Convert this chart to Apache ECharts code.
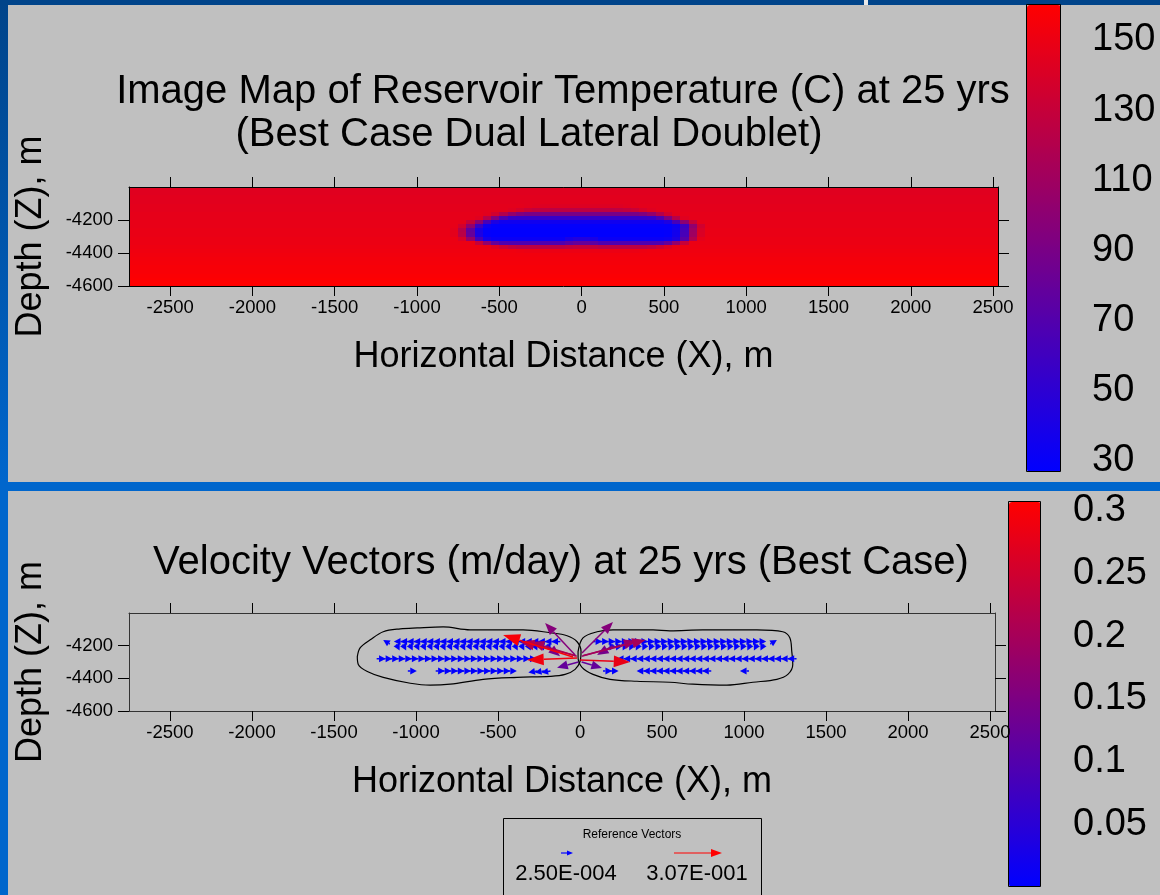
<!DOCTYPE html>
<html><head><meta charset="utf-8">
<script src="https://cdn.jsdelivr.net/npm/echarts@6/dist/echarts.min.js"></script>
<style>
html,body{margin:0;padding:0;width:1160px;height:895px;overflow:hidden;background:#0066cc;}
#leftstrip{position:absolute;left:0;top:0;width:8px;height:895px;background:linear-gradient(#00448a 0px,#0066cc 480px);}
#topband{position:absolute;left:0;top:0;width:1160px;height:5px;background:#00448a;}
#mark{position:absolute;left:864px;top:0;width:4px;height:5px;background:#e8e8e8;}
#p1{position:absolute;left:8px;top:5px;width:1152px;height:477px;background:#c0c0c0;}
#p2{position:absolute;left:8px;top:491px;width:1152px;height:404px;background:#c0c0c0;}
#chart{position:absolute;left:0;top:0;width:1160px;height:895px;}
</style></head>
<body>
<div id="leftstrip"></div><div id="topband"></div><div id="mark"></div>
<div id="p1"></div><div id="p2"></div>
<div id="chart"></div>
<script>
// ---------- tick labels ----------
const xTicks = [-2500,-2000,-1500,-1000,-500,0,500,1000,1500,2000,2500];
const depthTicks = [-4600,-4400,-4200];
const tempTicks = [30,50,70,90,110,130,150];
const speedTicks = [0.05,0.1,0.15,0.2,0.25,0.3];

// ---------- temperature field (C) ----------
// background rows (25 m thick), centre depths top->bottom
const bgDepth = [-4012.5,-4037.5,-4062.5,-4087.5,-4112.5,-4137.5,-4162.5,-4187.5,-4212.5,-4237.5,-4262.5,-4287.5,
                 -4312.5,-4337.5,-4362.5,-4387.5,-4412.5,-4437.5,-4462.5,-4487.5,-4512.5,-4537.5,-4562.5,-4587.5];
const bgTemp = [144,144,145,145,146,146,147,147,148,148,149,149,150,150,151,152,153,154,155,156,157,158,159,160];
// cold-zone cells (50 m x 25 m)
const coldX = [-775,-725,-675,-625,-575,-525,-475,-425,-375,-325,-275,-225,-175,-125,-75,-25,
               25,75,125,175,225,275,325,375,425,475,525,575,625,675,725,775];
const coldZ = [-4112.5,-4137.5,-4162.5,-4187.5,-4212.5,-4237.5,-4262.5,-4287.5,-4312.5,-4337.5,-4362.5,-4387.5];
const coldTemp = [
 [146,146,146,146,146,146,146,146,146,145,144,142,142,142,142,142, 142,142,142,142,142,144,145,146,146,146,146,146,146,146,146,146],
 [146,146,146,146,146,146,146,143,138,132,128,126,125,125,125,125, 125,125,125,125,126,128,132,138,143,146,146,146,146,146,146,146],
 [147,147,147,147,145,136,120,104,94,90,90,90,90,90,90,90, 90,90,90,90,90,90,90,94,104,120,136,145,147,147,147,147],
 [147,147,147,144,122,93,68,56,55,55,55,55,55,55,55,55, 55,55,55,55,55,55,55,55,56,68,93,122,144,147,147,147],
 [148,147,130,100,64,42,35,35,35,35,35,35,35,35,35,35, 35,35,35,35,35,35,35,35,35,35,42,64,100,130,147,148],
 [148,136,102,58,33,28,28,28,28,28,28,28,28,28,28,28, 28,28,28,28,28,28,28,28,28,28,28,33,58,102,136,148],
 [146,122,78,40,28,27,27,27,27,27,27,27,27,27,27,27, 27,27,27,27,27,27,27,27,27,27,28,35,62,108,140,149],
 [146,124,80,41,28,27,27,27,27,27,27,27,27,27,27,27, 27,27,27,27,27,27,27,27,27,27,28,36,64,110,141,149],
 [150,140,105,62,37,32,32,32,32,32,32,32,32,32,40,45, 45,40,32,32,32,32,32,32,32,32,34,42,72,118,147,150],
 [150,150,150,130,104,80,69,68,68,68,68,68,68,68,75,80, 80,75,68,68,68,68,68,68,68,69,80,104,130,150,150,150],
 [151,151,151,151,150,143,135,128,125,125,125,125,125,125,128,130, 130,128,125,125,125,125,125,125,128,135,143,150,151,151,151,151],
 [152,152,152,152,152,152,152,152,151,150,150,150,150,150,150,150, 150,150,150,150,150,150,150,151,152,152,152,152,152,152,152,152]
];

// ---------- velocity vectors (m, m/day) ----------
const rowDepth = [-4175, -4190, -4280, -4355];
const rowSpeed = [0.004, 0.003, 0.004, 0.003];
const rowX = [
 [-1080,-1040,-1000,-960,-920,-880,-840,-800,-760,-720,-680,-640,-600,-560,-520,-480,-440,-400,-360,-320,-280,-240,-200,-160,-120,
  80,120,160,200,240,280,320,360,400,440,480,520,560,600,640,680,720,760,800,840,880,920,960,1000,1040,1080],
 [-1160,-1120,-1080,-1040,-1000,-960,-920,-880,-840,-800,-760,-720,-680,-640,-600,-560,-520,-480,-440,-400,-360,-320,-280,-240,-200,
  200,240,280,320,360,400,440,480,520,560,600,640,680,720,760,800,840,880,920,960,1000,1040,1080,1120,1160],
 [-1240,-1200,-1160,-1120,-1080,-1040,-1000,-960,-920,-880,-840,-800,-760,-720,-680,-640,-600,-560,-520,-480,-440,-400,-360,-320,
  280,320,360,400,440,480,520,560,600,640,680,720,760,800,840,880,920,960,1000,1040,1080,1120,1160,1200,1240,1280,1320],
 [-1050,-880,-840,-800,-760,-720,-680,-640,-600,-560,-520,-480,-440,-260,-220,-180,
  140,180,400,440,480,520,560,600,640,680,720,760,800,1030]
];
const rowDX = [
 [-55,-55,-55,-55,-55,-55,-55,-55,-55,-55,-55,-55,-55,-55,-55,-55,-55,-55,-55,-55,-55,-55,-55,-55,-55,
  55,55,55,55,55,55,55,55,55,55,55,55,55,55,55,55,55,55,55,55,55,55,55,55,55,55],
 [-40,20,20,20,20,20,20,20,20,20,20,20,20,20,20,20,20,20,20,20,20,20,20,20,20,
  -20,-20,-20,-20,-20,-20,-20,-20,-20,-20,-20,-20,-20,-20,-20,-20,-20,-20,-20,-20,-20,-20,-20,-20,40],
 [55,55,55,55,55,55,55,55,55,55,55,55,55,55,55,55,55,55,55,55,55,55,55,55,
  -55,-55,-55,-55,-55,-55,-55,-55,-55,-55,-55,-55,-55,-55,-55,-55,-55,-55,-55,-55,-55,-55,-55,-55,-55,-55,-55],
 [55,55,55,55,55,55,55,55,55,55,55,55,55,-55,-55,-55,
  55,55,-55,-55,-55,-55,-55,-55,-55,-55,-55,-55,-55,-55]
];
const rowDZ = [
 [0,0,0,0,0,0,0,0,0,0,0,0,0,0,0,0,0,0,0,0,0,0,0,0,0, 0,0,0,0,0,0,0,0,0,0,0,0,0,0,0,0,0,0,0,0,0,0,0,0,0,0],
 [25,-40,-40,-40,-40,-40,-40,-40,-40,-40,-40,-40,-40,-40,-40,-40,-40,-40,-40,-40,-40,-40,-40,-40,-40,
  -40,-40,-40,-40,-40,-40,-40,-40,-40,-40,-40,-40,-40,-40,-40,-40,-40,-40,-40,-40,-40,-40,-40,-40,25],
 [0,0,0,0,0,0,0,0,0,0,0,0,0,0,0,0,0,0,0,0,0,0,0,0, 0,0,0,0,0,0,0,0,0,0,0,0,0,0,0,0,0,0,0,0,0,0,0,0,0,0,0],
 [0,0,0,0,0,0,0,0,0,0,0,0,0,-10,-10,-10, 0,0,0,0,0,0,0,0,0,0,0,0,0,0]
];
// fast vectors near the well pair
const wellX  = [-10,10,-200,200,-20,10,-30,20,-30,12,0,-18,-43];
const wellZ  = [-4300,-4300,-4200,-4200,-4265,-4265,-4260,-4260,-4257,-4245,-4288,-4275,-4269];
const wellDX = [-130,124,78,-96,-280,335,-335,380,-183,189,305,-305,-426];
const wellDZ = [-35,-37,-65,-57,87,95,85,95,196,190,-12,-13,134];
const wellSpeed = [0.12,0.12,0.14,0.14,0.2,0.18,0.22,0.2,0.16,0.16,0.28,0.29,0.30];

// ---------- swept-zone outlines ----------
const leftZoneX = [-1358,-1340,-1279,-1200,-1096,-993,-834,-670,-530,-347,-183,-79,-18,6,0,-30,-91,-183,-384,-591,-792,-914,-1035,-1200,-1297,-1352,-1358];
const leftZoneZ = [-4267,-4212,-4164,-4115,-4097,-4091,-4085,-4103,-4103,-4103,-4121,-4139,-4176,-4236,-4297,-4345,-4376,-4388,-4394,-4406,-4436,-4442,-4430,-4394,-4358,-4315,-4267];
const rightZoneX = [-12,18,104,201,445,548,749,1078,1236,1279,1291,1297,1267,1200,1054,895,688,548,347,183,79,12,-12,-12];
const rightZoneZ = [-4236,-4152,-4115,-4103,-4103,-4109,-4103,-4103,-4115,-4152,-4236,-4315,-4376,-4406,-4424,-4442,-4436,-4424,-4418,-4406,-4376,-4333,-4273,-4236];

// ---------- build ----------
const FONT = '"Liberation Sans", Arial, sans-serif';
const X_MIN = -2750, X_MAX = 2530, Z_MIN = -4600, Z_MAX = -4000;
const BG_H = 25, CELL_W = 50, CELL_H = 25;
const plain = v => String(v);

const bgData = bgDepth.map((z, i) => [0, z, bgTemp[i]]);
const coldData = [];
coldZ.forEach((z, r) => coldX.forEach((x, c) => coldData.push([x, z, coldTemp[r][c]])));
const arrowData = [];
rowX.forEach((xs, r) => xs.forEach((x, i) => arrowData.push([x, rowDepth[r], rowDX[r][i], rowDZ[r][i], rowSpeed[r]])));
wellX.forEach((x, i) => arrowData.push([x, wellZ[i], wellDX[i], wellDZ[i], wellSpeed[i]]));

function rectOf(api, x0, z0, x1, z1) {
  const a = api.coord([x0, z0]), b = api.coord([x1, z1]);
  const l = Math.round(Math.min(a[0], b[0])), r = Math.round(Math.max(a[0], b[0]));
  const t = Math.round(Math.min(a[1], b[1])), bt = Math.round(Math.max(a[1], b[1]));
  return {type: 'rect', shape: {x: l, y: t, width: r - l, height: bt - t}, style: {fill: api.visual('color')}};
}

function xAxisPair(grid, frameColor) {
  return [
    {type: 'value', gridIndex: grid, position: 'bottom', min: X_MIN, max: X_MAX, z: 5,
     name: 'Horizontal Distance (X), m', nameLocation: 'middle', nameGap: 53,
     nameTextStyle: {fontSize: 36, color: '#000', fontFamily: FONT},
     axisLine: {show: true, onZero: false, lineStyle: {color: frameColor, width: 1}},
     axisTick: {show: true, inside: false, length: 10, customValues: xTicks, lineStyle: {color: '#000'}},
     axisLabel: {show: true, margin: 12, fontSize: 18.5, color: '#000', fontFamily: FONT, customValues: xTicks, formatter: plain},
     splitLine: {show: false}},
    {type: 'value', gridIndex: grid, position: 'top', min: X_MIN, max: X_MAX, z: 5,
     axisLine: {show: true, onZero: false, lineStyle: {color: frameColor, width: 1}},
     axisTick: {show: true, inside: false, length: 10, customValues: xTicks, lineStyle: {color: '#000'}},
     axisLabel: {show: false}, splitLine: {show: false}}
  ];
}
function yAxisPair(grid, frameColor) {
  return [
    {type: 'value', gridIndex: grid, position: 'left', min: Z_MIN, max: Z_MAX, z: 5,
     name: 'Depth (Z), m', nameLocation: 'middle', nameGap: 80,
     nameTextStyle: {fontSize: 36, color: '#000', fontFamily: FONT},
     axisLine: {show: true, onZero: false, lineStyle: {color: frameColor, width: 1}},
     axisTick: {show: true, inside: false, length: 11, customValues: depthTicks, lineStyle: {color: '#000'}},
     axisLabel: {show: true, margin: 16, fontSize: 18.5, color: '#000', fontFamily: FONT, customValues: depthTicks, formatter: plain},
     splitLine: {show: false}},
    {type: 'value', gridIndex: grid, position: 'right', min: Z_MIN, max: Z_MAX, z: 5,
     axisLine: {show: true, onZero: false, lineStyle: {color: frameColor, width: 1}},
     axisTick: {show: true, inside: false, length: 11, customValues: depthTicks, lineStyle: {color: '#000'}},
     axisLabel: {show: false}, splitLine: {show: false}}
  ];
}

const chart = echarts.init(document.getElementById('chart'), null, {renderer: 'canvas'});
chart.setOption({
  animation: false,
  backgroundColor: 'transparent',
  grid: [
    {left: 129, top: 187, width: 869, height: 99},
    {left: 129, top: 613, width: 866, height: 98},
    {left: 1027, top: 5, width: 34, height: 467},
    {left: 1009, top: 502, width: 32, height: 385}
  ],
  xAxis: [
    ...xAxisPair(0, '#000'),
    ...xAxisPair(1, '#333'),
    {type: 'value', gridIndex: 2, show: false, min: 0, max: 1},
    {type: 'value', gridIndex: 3, show: false, min: 0, max: 1}
  ],
  yAxis: [
    ...yAxisPair(0, '#000'),
    ...yAxisPair(1, '#333'),
    {type: 'value', gridIndex: 2, position: 'right', min: 26.6, max: 160,
     axisLine: {show: false}, splitLine: {show: false},
     axisTick: {show: true, length: 19, customValues: tempTicks, lineStyle: {color: '#000'}},
     axisLabel: {show: true, margin: 31, fontSize: 38, color: '#000', fontFamily: FONT, customValues: tempTicks, formatter: plain}},
    {type: 'value', gridIndex: 3, position: 'right', min: 0, max: 0.307,
     axisLine: {show: false}, splitLine: {show: false},
     axisTick: {show: true, length: 19, customValues: speedTicks, lineStyle: {color: '#333'}},
     axisLabel: {show: true, margin: 32, fontSize: 38, color: '#000', fontFamily: FONT, customValues: speedTicks, formatter: plain}}
  ],
  visualMap: [
    {type: 'continuous', seriesIndex: [0, 1], dimension: 2, min: 26.6, max: 160,
     inRange: {color: ['#0000ff', '#ff0000']}, left: 1027, top: 5, itemWidth: 34, itemHeight: 467,
     padding: 0, calculable: false, hoverLink: false, orient: 'vertical', show: true},
    {type: 'continuous', seriesIndex: [4], dimension: 4, min: 0, max: 0.307,
     inRange: {color: ['#0000ff', '#ff0000']}, left: 1009, top: 502, itemWidth: 32, itemHeight: 385,
     padding: 0, calculable: false, hoverLink: false, orient: 'vertical', show: true}
  ],
  series: [
    {type: 'custom', name: 'temperature rows', xAxisIndex: 0, yAxisIndex: 0, encode: {x: 0, y: 1},
     data: bgData, z: 1,
     renderItem: (p, api) => rectOf(api, X_MIN, api.value(1) + BG_H / 2, X_MAX, api.value(1) - BG_H / 2)},
    {type: 'custom', name: 'cold zone', xAxisIndex: 0, yAxisIndex: 0, encode: {x: 0, y: 1},
     data: coldData, z: 2,
     renderItem: (p, api) => rectOf(api, api.value(0) - CELL_W / 2, api.value(1) + CELL_H / 2,
                                         api.value(0) + CELL_W / 2, api.value(1) - CELL_H / 2)},
    {type: 'line', xAxisIndex: 2, yAxisIndex: 2, data: leftZoneX.map((x, i) => [x, leftZoneZ[i]]),
     symbol: 'none', smooth: 0.35, lineStyle: {color: '#000', width: 1.2}, z: 3},
    {type: 'line', xAxisIndex: 2, yAxisIndex: 2, data: rightZoneX.map((x, i) => [x, rightZoneZ[i]]),
     symbol: 'none', smooth: 0.35, lineStyle: {color: '#000', width: 1.2}, z: 3},
    {type: 'custom', name: 'velocity', xAxisIndex: 2, yAxisIndex: 2, encode: {x: 0, y: 1},
     data: arrowData, z: 4,
     renderItem: (p, api) => {
       const x = api.value(0), z = api.value(1), dx = api.value(2), dz = api.value(3), sp = api.value(4);
       const p0 = api.coord([x, z]), p1 = api.coord([x + dx, z + dz]);
       const col = api.visual('color');
       const ang = Math.atan2(p1[1] - p0[1], p1[0] - p0[0]);
       const hl = 6.5 + 35 * sp, hw = 1.8 + 0.25 * hl;
       const bx = p1[0] - hl * Math.cos(ang), by = p1[1] - hl * Math.sin(ang);
       const nx = -Math.sin(ang) * hw, ny = Math.cos(ang) * hw;
       return {type: 'group', children: [
         {type: 'line', shape: {x1: p0[0], y1: p0[1], x2: bx, y2: by}, style: {stroke: col, lineWidth: 1.5}},
         {type: 'polygon', shape: {points: [[p1[0], p1[1]], [bx + nx, by + ny], [bx - nx, by - ny]]}, style: {fill: col}}
       ]};
     }}
  ],
  graphic: [
    {type: 'text', x: 563, y: 92, z: 100, style: {text: 'Image Map of Reservoir Temperature (C) at 25 yrs', fontSize: 40, fontFamily: FONT, fill: '#000', align: 'center', verticalAlign: 'middle'}},
    {type: 'text', x: 529, y: 135, z: 100, style: {text: '(Best Case Dual Lateral Doublet)', fontSize: 40, fontFamily: FONT, fill: '#000', align: 'center', verticalAlign: 'middle'}},
    {type: 'text', x: 561, y: 563, z: 100, style: {text: 'Velocity Vectors (m/day) at 25 yrs (Best Case)', fontSize: 40, fontFamily: FONT, fill: '#000', align: 'center', verticalAlign: 'middle'}},
    {type: 'rect', z: 100, shape: {x: 1026.5, y: 4.5, width: 34, height: 467}, style: {fill: 'none', stroke: '#000', lineWidth: 1}},
    {type: 'rect', z: 100, shape: {x: 1008.5, y: 501.5, width: 32, height: 385}, style: {fill: 'none', stroke: '#000', lineWidth: 1}},
    {type: 'rect', z: 100, shape: {x: 503.5, y: 818.5, width: 258, height: 100}, style: {fill: 'none', stroke: '#000', lineWidth: 1}},
    {type: 'text', x: 632, y: 835, z: 100, style: {text: 'Reference Vectors', fontSize: 12, fontFamily: FONT, fill: '#000', align: 'center', verticalAlign: 'middle'}},
    {type: 'line', z: 100, shape: {x1: 561, y1: 853, x2: 568, y2: 853}, style: {stroke: '#0000ff', lineWidth: 1.2}},
    {type: 'polygon', z: 100, shape: {points: [[573, 853], [567, 850.5], [567, 855.5]]}, style: {fill: '#0000ff'}},
    {type: 'line', z: 100, shape: {x1: 674, y1: 853, x2: 712, y2: 853}, style: {stroke: '#ff0000', lineWidth: 1.2}},
    {type: 'polygon', z: 100, shape: {points: [[722, 853], [711, 849], [711, 857]]}, style: {fill: '#ff0000'}},
    {type: 'text', x: 566, y: 874, z: 100, style: {text: '2.50E-004', fontSize: 22, fontFamily: FONT, fill: '#000', align: 'center', verticalAlign: 'middle'}},
    {type: 'text', x: 697, y: 874, z: 100, style: {text: '3.07E-001', fontSize: 22, fontFamily: FONT, fill: '#000', align: 'center', verticalAlign: 'middle'}}
  ]
});
</script>
</body></html>
